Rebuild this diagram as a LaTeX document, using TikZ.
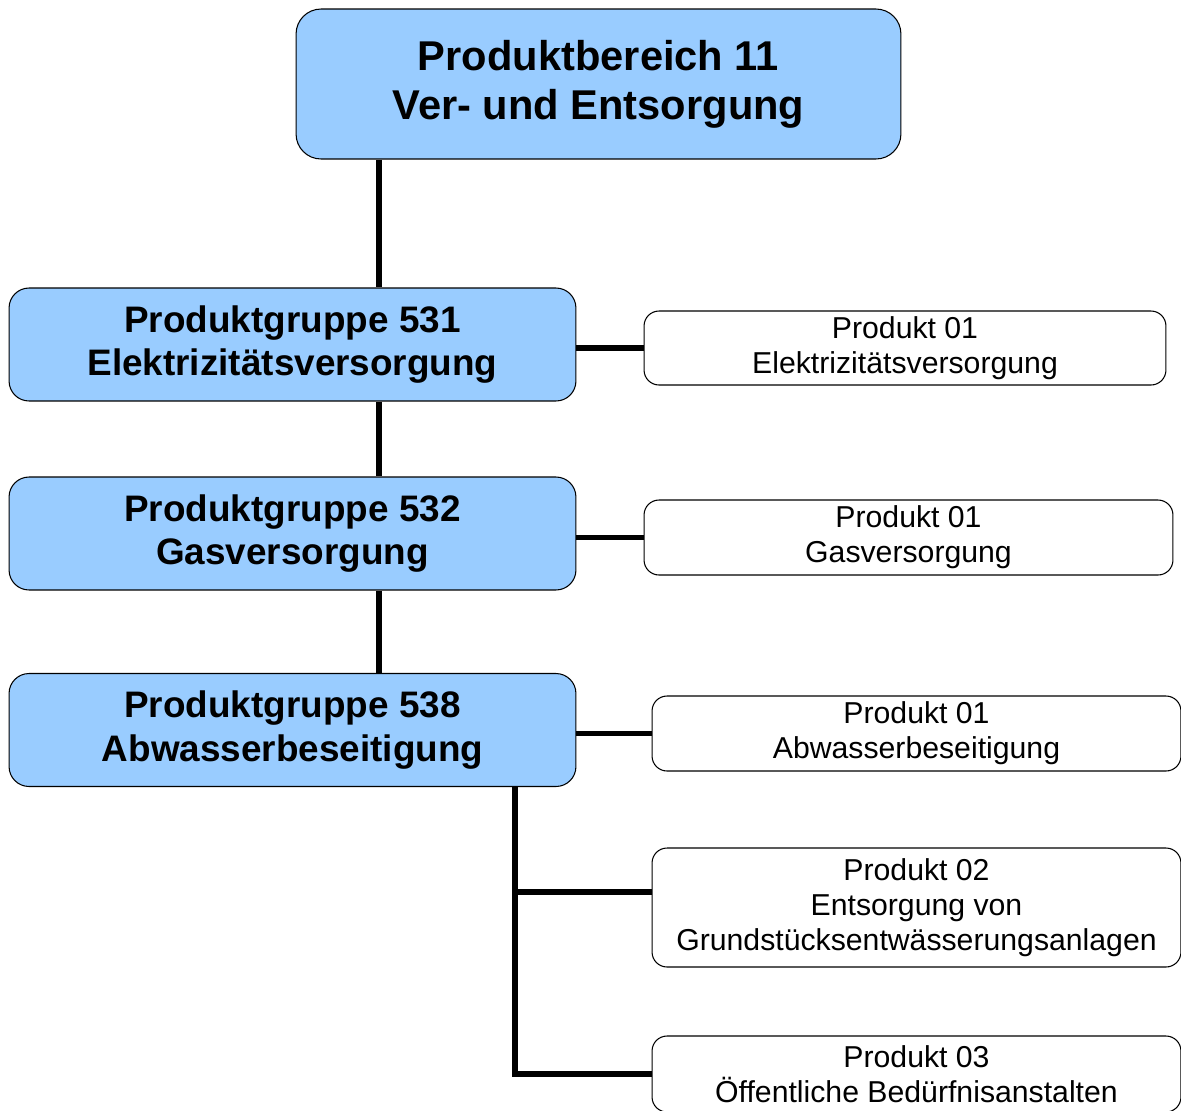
\documentclass[tikz,border=0pt]{standalone}
\usepackage{fontspec}
\setmainfont{Liberation Sans}
\usetikzlibrary{positioning}

\definecolor{groupblue}{HTML}{99CCFF}

\tikzset{
    areabox/.style={draw, line width=0.6pt, fill=groupblue, rounded corners=0.5cm,
        align=center, inner sep=0pt, font=\bfseries\fontsize{23.7}{27.8}\selectfont},
    groupbox/.style={draw, line width=0.6pt, fill=groupblue, rounded corners=0.4cm,
        minimum width=11.34cm, minimum height=2.26cm, align=center, inner sep=0pt,
        font=\bfseries\fontsize{21}{24.9}\selectfont},
    productbox/.style={draw, line width=0.6pt, fill=white, rounded corners=0.3cm,
        minimum width=10.58cm, minimum height=1.5cm, align=center, inner sep=0pt,
        font=\fontsize{17.2}{19.8}\selectfont},
    link/.style={line width=3.4pt}
}

\begin{document}
\begin{tikzpicture}[x=0.02cm, y=-0.02cm]
        \useasboundingbox (0,0) rectangle (1181,1110);

        % Product area
        \node[areabox, minimum width=12.1cm, minimum height=3cm] (area) at (598.5,84)
            {Produktbereich 11\\Ver- und Entsorgung};

        % Product groups
        \node[groupbox] (g531) at (292.5,344.5) {Produktgruppe 531\\Elektrizitätsversorgung};
        \node[groupbox] (g532) at (292.5,533.5) {Produktgruppe 532\\Gasversorgung};
        \node[groupbox] (g538) at (292.5,730) {Produktgruppe 538\\Abwasserbeseitigung};

        % Products
        \node[productbox, minimum width=10.44cm, minimum height=1.48cm] (p531) at (905,348)
            {Produkt 01\\Elektrizitätsversorgung};
        \node[productbox] (p532) at (908.5,537.5) {Produkt 01\\Gasversorgung};
        \node[productbox] (p538a) at (916.5,733.5) {Produkt 01\\Abwasserbeseitigung};
        \node[productbox, minimum height=2.38cm] (p538b) at (916.5,907.5)
            {Produkt 02\\Entsorgung von\\Grundstücksentwässerungsanlagen};
        \node[productbox, minimum height=1.52cm] (p538c) at (916.5,1074)
            {Produkt 03\\Öffentliche Bedürfnisanstalten};

        % Spine between area and groups
        \coordinate (spine) at (379,0);
        \draw[link] (area.south -| spine) -- (g531.north -| spine);
        \draw[link] (g531.south -| spine) -- (g532.north -| spine);
        \draw[link] (g532.south -| spine) -- (g538.north -| spine);

        % Groups to their products
        \draw[link] (g531.east |- p531.west) -- (p531.west);
        \draw[link] (g532.east |- p532.west) -- (p532.west);
        \draw[link] (g538.east |- p538a.west) -- (p538a.west);

        % Branch below group 538
        \coordinate (branch) at (515,0);
        \coordinate (p538bin) at ([yshift=0.32cm]p538b.west);
        \draw[link] (g538.south -| branch) |- (p538c.west);
        \draw[link] (branch |- p538bin) -- (p538bin);
    \end{tikzpicture}
\end{document}
